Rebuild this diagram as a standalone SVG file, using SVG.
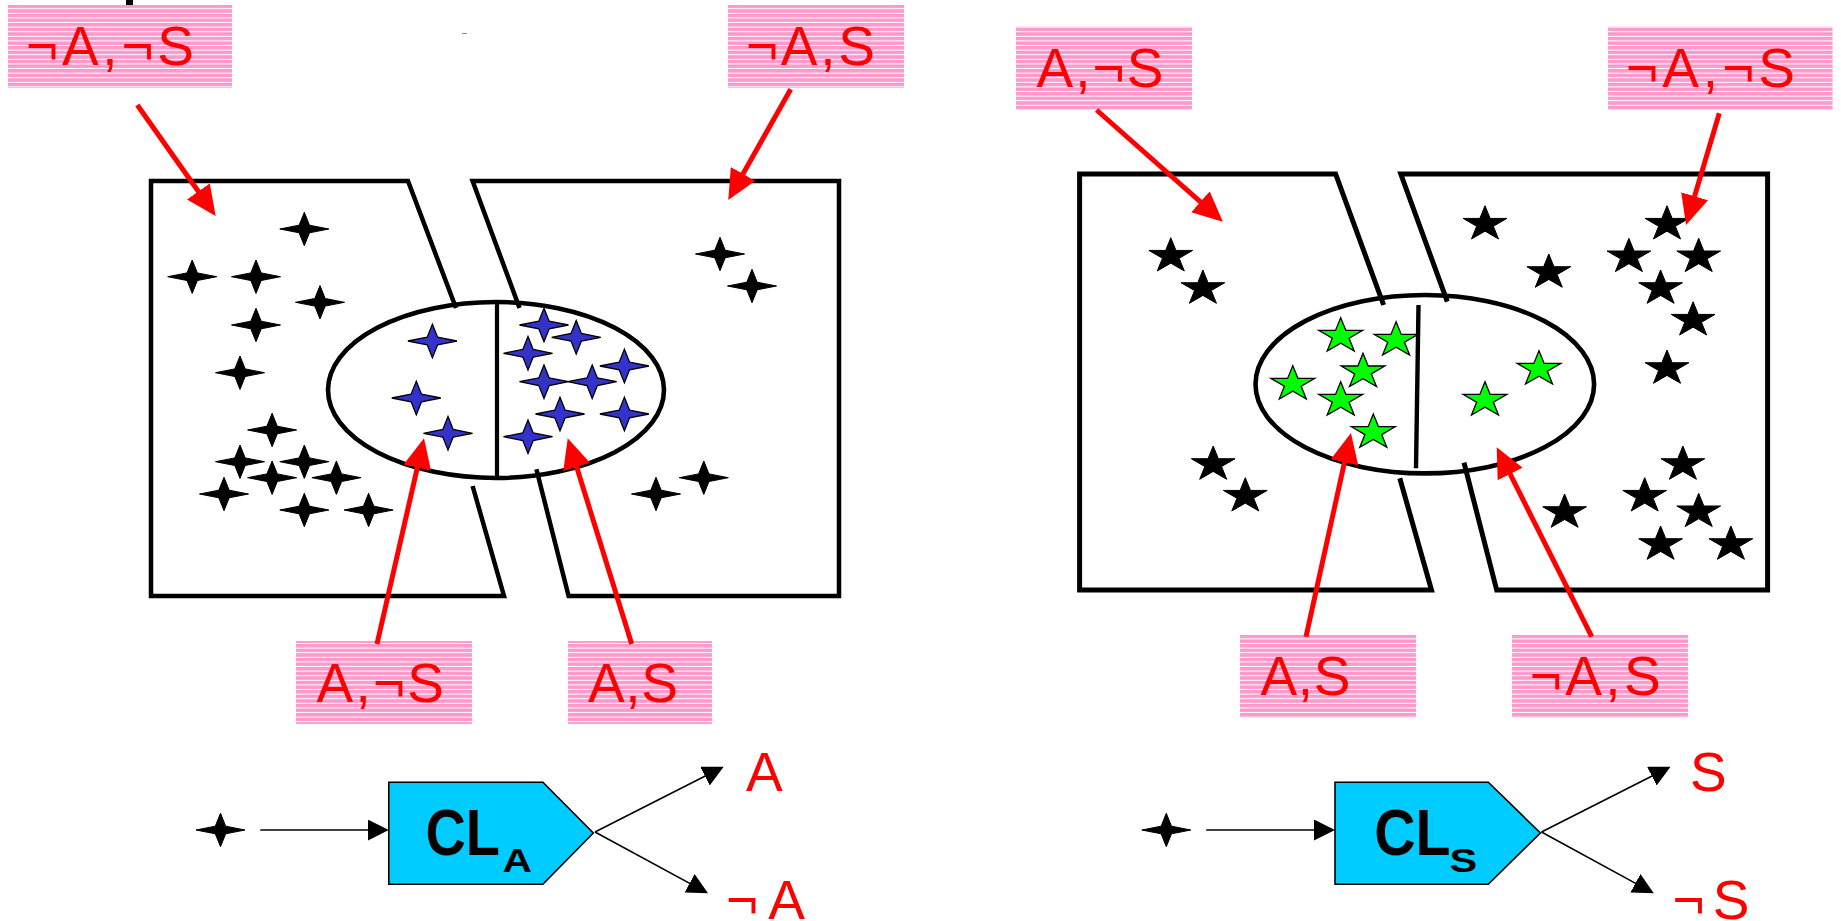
<svg xmlns="http://www.w3.org/2000/svg" xmlns:xlink="http://www.w3.org/1999/xlink" width="1841" height="921" viewBox="0 0 1841 921">
<style>
.frame{fill:none;stroke:#000;stroke-width:4.5;stroke-linejoin:miter;stroke-linecap:butt}
.frame2{fill:none;stroke:#000;stroke-width:5;stroke-linejoin:miter;stroke-linecap:butt}
.oval{fill:none;stroke:#000;stroke-width:4.6}
.lbl{fill:url(#stripes)}
.ltxt{font-family:"Liberation Sans",Arial,sans-serif;font-size:55px;fill:#FF0000}
.red{fill:none;stroke:#FF0000;stroke-width:5;marker-end:url(#ar)}
.blk{fill:none;stroke:#000;stroke-width:1.6;marker-end:url(#ab)}
.s-black{fill:#000;stroke:#000;stroke-width:1}
.s-blue{fill:#3333CC;stroke:#000;stroke-width:1.3}
.s-green{fill:#00FF00;stroke:#000;stroke-width:1.3}
.clbox{fill:#00CCFF;stroke:#000;stroke-width:1.6}
.cl{font-family:"Liberation Sans",Arial,sans-serif;font-weight:bold;fill:#000}
</style>
<defs>
<pattern id="stripes" patternUnits="userSpaceOnUse" width="20" height="4.6">
<rect width="20" height="4.6" fill="#FF99CC"/>
<rect y="3.6" width="20" height="1" fill="#FFFFFF"/>
</pattern>
<path id="st4" d="M-24.5,0 L-5.2,-3.8 L0,-16.7 L5.2,-3.8 L24.5,0 L5.2,3.8 L0,16.7 L-5.2,3.8 Z"/>
<path id="st5" d="M0,-18.4 L5.17,-5.69 L21.88,-5.69 L8.36,2.17 L13.52,14.89 L0,7.03 L-13.52,14.89 L-8.36,2.17 L-21.88,-5.69 L-5.17,-5.69 Z"/>
<marker id="ar" viewBox="0 0 30 28" refX="20" refY="14" markerWidth="30" markerHeight="28" orient="auto" markerUnits="userSpaceOnUse">
<path d="M0,0 L30,14 L0,28 Z" fill="#FF0000"/>
</marker>
<marker id="ab" viewBox="0 0 21 21" refX="18" refY="10.5" markerWidth="21" markerHeight="21" orient="auto" markerUnits="userSpaceOnUse">
<path d="M0,0 L21,10.5 L0,21 Z" fill="#000"/>
</marker>
</defs>
<rect width="1841" height="921" fill="#FFFFFF"/>
<rect x="126" y="0" width="7" height="6.5" fill="#000"/>
<rect x="462" y="33" width="5" height="1" fill="#888"/>

<!-- Left diagram (A) -->
<g id="frameA">
<path class="frame" d="M456,308 L408,181 L151,181 L151,596 L504,596 L472.6,486"/>
<path class="frame" d="M519.5,308 L472.6,181 L839,181 L839,596 L568.6,596 L536.4,469.3"/>
<ellipse class="oval" cx="496" cy="390" rx="168" ry="88"/>
<line x1="497" y1="303" x2="497" y2="476" stroke="#000" stroke-width="4.2"/>
</g>
<g id="pointsA">
<use href="#st4" class="s-black" x="304.3" y="229"/>
<use href="#st4" class="s-black" x="192.2" y="276.7"/>
<use href="#st4" class="s-black" x="256" y="276.7"/>
<use href="#st4" class="s-black" x="320" y="302.3"/>
<use href="#st4" class="s-black" x="256" y="325"/>
<use href="#st4" class="s-black" x="240" y="372.7"/>
<use href="#st4" class="s-black" x="272.1" y="430"/>
<use href="#st4" class="s-black" x="240" y="461.7"/>
<use href="#st4" class="s-black" x="304.3" y="461.7"/>
<use href="#st4" class="s-black" x="272.1" y="477.7"/>
<use href="#st4" class="s-black" x="336.4" y="477.7"/>
<use href="#st4" class="s-black" x="224" y="494"/>
<use href="#st4" class="s-black" x="304.3" y="510"/>
<use href="#st4" class="s-black" x="368.6" y="510"/>
<use href="#st4" class="s-black" x="720" y="254"/>
<use href="#st4" class="s-black" x="752" y="286"/>
<use href="#st4" class="s-black" x="703.8" y="477.7"/>
<use href="#st4" class="s-black" x="656" y="494"/>
<use href="#st4" class="s-blue" x="432.4" y="341"/>
<use href="#st4" class="s-blue" x="416.3" y="398"/>
<use href="#st4" class="s-blue" x="448" y="433.3"/>
<use href="#st4" class="s-blue" x="544" y="325"/>
<use href="#st4" class="s-blue" x="576.2" y="337.3"/>
<use href="#st4" class="s-blue" x="528" y="353.3"/>
<use href="#st4" class="s-blue" x="624.4" y="366"/>
<use href="#st4" class="s-blue" x="544" y="381.7"/>
<use href="#st4" class="s-blue" x="592.2" y="381.7"/>
<use href="#st4" class="s-blue" x="560" y="414"/>
<use href="#st4" class="s-blue" x="624.4" y="414"/>
<use href="#st4" class="s-blue" x="528" y="436.7"/>
</g>
<g id="lblA1"><rect class="lbl" x="8" y="5" width="224" height="83"/><text class="ltxt" x="26" y="65" textLength="168" lengthAdjust="spacing">¬A,¬S</text></g>
<g id="lblA2"><rect class="lbl" x="728" y="5" width="176" height="83"/><text class="ltxt" x="746" y="65" textLength="129" lengthAdjust="spacing">¬A,S</text></g>
<g id="lblA3"><rect class="lbl" x="296" y="641" width="176" height="83"/><text class="ltxt" x="316.5" y="701.7" textLength="127.5" lengthAdjust="spacing">A,¬S</text></g>
<g id="lblA4"><rect class="lbl" x="568" y="641" width="144" height="83"/><text class="ltxt" x="588" y="701.7" textLength="90" lengthAdjust="spacing">A,S</text></g>

<!-- Right diagram (S) -->
<g id="frameS">
<path class="frame2" d="M1383.6,305 L1335.6,174 L1079.6,174 L1079.6,590 L1431.5,590 L1399.8,478.3"/>
<path class="frame2" d="M1447.3,301.7 L1400.8,174 L1767.6,174 L1767.6,590 L1496.7,590 L1464,462.7"/>
<ellipse class="oval" cx="1424.8" cy="384.2" rx="169.3" ry="89.2"/>
<line x1="1418.5" y1="305" x2="1416" y2="468.3" stroke="#000" stroke-width="4.4"/>
</g>
<g id="pointsS">
<use href="#st5" class="s-black" x="1170.8" y="256.1"/>
<use href="#st5" class="s-black" x="1202.9" y="288.4"/>
<use href="#st5" class="s-black" x="1213.2" y="464.4"/>
<use href="#st5" class="s-black" x="1245.3" y="496.1"/>
<use href="#st5" class="s-black" x="1485" y="224.1"/>
<use href="#st5" class="s-black" x="1548.8" y="272.4"/>
<use href="#st5" class="s-black" x="1667" y="224.1"/>
<use href="#st5" class="s-black" x="1628.9" y="256.7"/>
<use href="#st5" class="s-black" x="1698.7" y="256.7"/>
<use href="#st5" class="s-black" x="1660.6" y="288.4"/>
<use href="#st5" class="s-black" x="1693.1" y="320.1"/>
<use href="#st5" class="s-black" x="1667" y="368.4"/>
<use href="#st5" class="s-black" x="1682.9" y="464.4"/>
<use href="#st5" class="s-black" x="1644.7" y="496.1"/>
<use href="#st5" class="s-black" x="1698.7" y="511.7"/>
<use href="#st5" class="s-black" x="1564.6" y="512.4"/>
<use href="#st5" class="s-black" x="1660.6" y="544.4"/>
<use href="#st5" class="s-black" x="1730.9" y="544.4"/>
<use href="#st5" class="s-green" x="1340.7" y="336.1"/>
<use href="#st5" class="s-green" x="1396.1" y="340.1"/>
<use href="#st5" class="s-green" x="1363" y="371.7"/>
<use href="#st5" class="s-green" x="1292.8" y="384.1"/>
<use href="#st5" class="s-green" x="1340.7" y="400.1"/>
<use href="#st5" class="s-green" x="1373.3" y="432.4"/>
<use href="#st5" class="s-green" x="1539" y="369.1"/>
<use href="#st5" class="s-green" x="1485" y="400.1"/>
</g>
<g id="lblS1"><rect class="lbl" x="1016" y="26.7" width="176" height="83.3"/><text class="ltxt" x="1036.5" y="87.3" textLength="127" lengthAdjust="spacing">A,¬S</text></g>
<g id="lblS2"><rect class="lbl" x="1608" y="26.7" width="224.6" height="83.3"/><text class="ltxt" x="1626" y="87.3" textLength="169" lengthAdjust="spacing">¬A,¬S</text></g>
<g id="lblS3"><rect class="lbl" x="1240" y="635" width="176" height="82.7"/><text class="ltxt" x="1260.5" y="695" textLength="90" lengthAdjust="spacing">A,S</text></g>
<g id="lblS4"><rect class="lbl" x="1512" y="635" width="176" height="82.7"/><text class="ltxt" x="1529.7" y="695" textLength="131" lengthAdjust="spacing">¬A,S</text></g>

<!-- Classifiers -->
<g id="inputA"><use href="#st4" class="s-black" x="220.5" y="830"/></g>
<g id="classifierA">
<path class="clbox" d="M388.8,782.3 L542.9,782.3 L593.3,833 L542.9,884.3 L388.8,884.3 Z"/>
<text class="cl" font-size="65" transform="translate(425.5,855) scale(0.86,1)">CL</text>
<text class="cl" font-size="34" transform="translate(502.5,871.7) scale(1.2,1)">A</text>
</g>
<g id="outA1"><text class="ltxt" x="746" y="791">A</text></g>
<g id="outA2"><text class="ltxt" x="726" y="919" textLength="79" lengthAdjust="spacing">¬A</text></g>

<g id="inputS"><use href="#st4" class="s-black" x="1166.3" y="830"/></g>
<g id="classifierS">
<path class="clbox" d="M1335,782.3 L1488.3,782.3 L1540.4,833 L1488.3,884.3 L1335,884.3 Z"/>
<text class="cl" font-size="65" transform="translate(1374.2,855) scale(0.88,1)">CL</text>
<text class="cl" font-size="34" transform="translate(1449.5,871.7) scale(1.22,1)">S</text>
</g>
<g id="outS1"><text class="ltxt" x="1690" y="791">S</text></g>
<g id="outS2"><text class="ltxt" x="1672.5" y="919" textLength="77" lengthAdjust="spacing">¬S</text></g>

<!-- Connectors -->
<g id="connectors">
<line class="red" x1="137.3" y1="105" x2="209.9" y2="207.8"/>
<line class="red" x1="790.7" y1="89.3" x2="733.2" y2="191.3"/>
<line class="red" x1="377" y1="644" x2="421.8" y2="448.1"/>
<line class="red" x1="631.7" y1="644" x2="570.7" y2="447.8"/>
<line class="red" x1="1096.6" y1="110" x2="1215.4" y2="215.1"/>
<line class="red" x1="1719.3" y1="113.3" x2="1688.9" y2="215.4"/>
<line class="red" x1="1306" y1="636.7" x2="1348.8" y2="442.8"/>
<line class="red" x1="1591.7" y1="636.7" x2="1501.2" y2="456.2"/>
<line class="blk" x1="260.3" y1="830" x2="385.8" y2="830"/>
<line class="blk" x1="595" y1="832" x2="721" y2="768"/>
<line class="blk" x1="595" y1="832" x2="705.4" y2="891.9"/>
<line class="blk" x1="1206.2" y1="830" x2="1332" y2="830"/>
<line class="blk" x1="1541.5" y1="832" x2="1667.9" y2="768"/>
<line class="blk" x1="1541.5" y1="832" x2="1651.2" y2="891.9"/>
</g>
</svg>
